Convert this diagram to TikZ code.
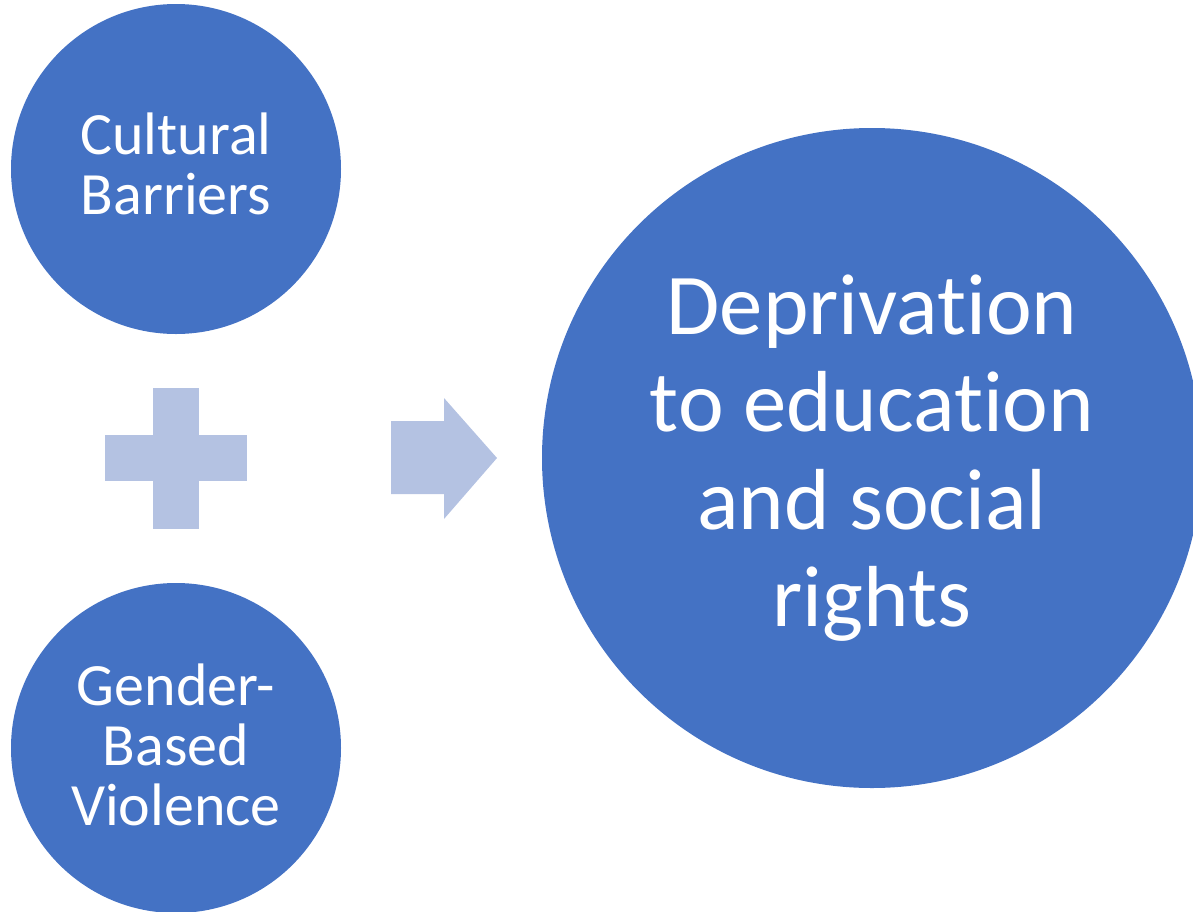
\documentclass[tikz,border=0pt]{standalone}
\usepackage{fontspec}
\setmainfont[Ligatures=NoCommon]{Carlito}
\definecolor{cblue}{HTML}{4472C4}
\definecolor{clight}{HTML}{B4C2E2}
\begin{document}
\begin{tikzpicture}[x=0.75pt,y=-0.75pt,
  bubble/.style={circle,fill=cblue,draw=none,text=white,align=center,inner sep=0pt},
  small/.style={bubble,minimum size=247.5pt,font=\fontsize{45}{45}\selectfont},
  big/.style={bubble,minimum size=495pt,font=\fontsize{65}{73}\selectfont},
  lightshape/.style={fill=clight,draw=none}]
\useasboundingbox (0,0) rectangle (1193,911);
\clip (0,0) rectangle (1193,911);
\node[small] (cult) at (176,169) {};
\node[text=white,align=center,font=\fontsize{45}{45}\selectfont] (cultt) at (176,164) {Cultural\\Barriers};
\node[small] (gbv) at (176,748) {};
\node[text=white,align=center,font=\fontsize{45}{45}\selectfont] (gbvt) at (176,745) {Gender-\\Based\\Violence};
\node[big] (dep) at (872,458) {Deprivation\\to education\\and social\\rights};
% plus sign
\coordinate (plus) at (176,458);
\fill[lightshape] (153,388) rectangle (199,529);
\fill[lightshape] (105,435) rectangle (247,481);
% arrow
\coordinate (arr) at (444,458);
\fill[lightshape] (391,421) -- (444,421) -- (444,398) -- (497,458) -- (444,519) -- (444,494) -- (391,494) -- cycle;
\end{tikzpicture}
\end{document}
